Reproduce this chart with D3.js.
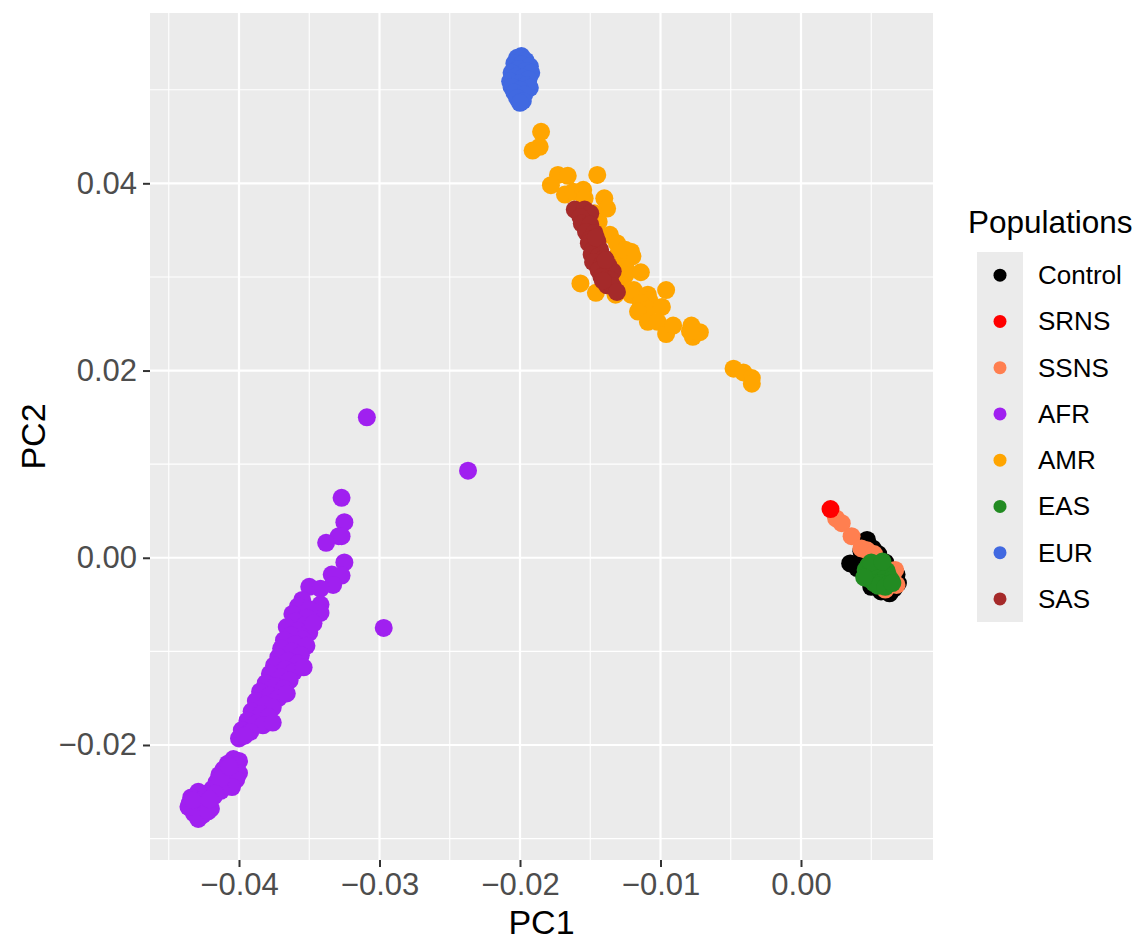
<!DOCTYPE html>
<html>
<head>
<meta charset="utf-8">
<script src="https://cdn.jsdelivr.net/npm/d3@7"></script>
<style>
  body { margin: 0; background: #fff; }
  svg { display: block; font-family: "Liberation Sans", Arial, sans-serif; }
</style>
</head>
<body>
<svg id="chart" width="1138" height="940" viewBox="0 0 1138 940"></svg>
<script>
// legend order + colours
const populations = ["Control", "SRNS", "SSNS", "AFR", "AMR", "EAS", "EUR", "SAS"];
const popColors = ["#000000", "#FF0000", "#FF7F50", "#A020F0", "#FFA500", "#228B22", "#4169E1", "#A52A2A"];

const xTicks = [-0.04, -0.03, -0.02, -0.01, 0.00];
const xMinor = [-0.045, -0.035, -0.025, -0.015, -0.005, 0.005];
const yTicks = [-0.02, 0.00, 0.02, 0.04];
const yMinor = [-0.03, -0.01, 0.01, 0.03, 0.05];

// PC1, PC2 per sample
const controlPts = [
  [0.0035, -0.0006], [0.0047, 0.0019], [0.0051, 0.0010], [0.0040, -0.0011], [0.0069, -0.0027],
  [0.0063, -0.0038], [0.0057, -0.0036], [0.0045, -0.0004], [0.0055, 0.0004], [0.0066, -0.0033],
  [0.0050, -0.0031], [0.0043, 0.0007], [0.0060, -0.0005], [0.0068, -0.0018]
];
const srnsPts = [
  [0.0021, 0.0052]
];
const ssnsPts = [
  [0.0025, 0.0042], [0.0029, 0.0037], [0.0036, 0.0023], [0.0043, 0.0010], [0.0047, 0.0008],
  [0.0067, -0.0013], [0.0068, -0.0029], [0.0065, -0.0021], [0.0052, 0.0004], [0.0060, -0.0034]
];
const afrPts = [
  [-0.0309, 0.0150], [-0.0237, 0.0093], [-0.0297, -0.0075],
  [-0.0327, 0.0064], [-0.0325, 0.0038], [-0.0329, 0.0023], [-0.0327, 0.0023], [-0.0338, 0.0016],
  [-0.0325, -0.0005], [-0.0334, -0.0018], [-0.0327, -0.0019], [-0.0333, -0.0029],
  [-0.0350, -0.0031], [-0.0342, -0.0033], [-0.0342, -0.0050], [-0.0342, -0.0059],
  [-0.0355, -0.0045], [-0.0358, -0.0052], [-0.0350, -0.0055], [-0.0362, -0.0060], [-0.0352, -0.0064],
  [-0.0360, -0.0068], [-0.0353, -0.0072], [-0.0366, -0.0074], [-0.0358, -0.0078], [-0.0350, -0.0080],
  [-0.0363, -0.0083], [-0.0355, -0.0087], [-0.0368, -0.0088], [-0.0360, -0.0092], [-0.0352, -0.0094],
  [-0.0370, -0.0097], [-0.0362, -0.0100], [-0.0356, -0.0104], [-0.0372, -0.0106], [-0.0365, -0.0110],
  [-0.0358, -0.0113], [-0.0375, -0.0115], [-0.0367, -0.0119], [-0.0361, -0.0122], [-0.0378, -0.0124],
  [-0.0370, -0.0128], [-0.0364, -0.0131], [-0.0381, -0.0134], [-0.0374, -0.0137], [-0.0368, -0.0140],
  [-0.0385, -0.0143], [-0.0378, -0.0147], [-0.0372, -0.0150], [-0.0388, -0.0153], [-0.0381, -0.0157],
  [-0.0376, -0.0160], [-0.0391, -0.0164], [-0.0384, -0.0167], [-0.0379, -0.0170], [-0.0394, -0.0174],
  [-0.0388, -0.0177], [-0.0383, -0.0179], [-0.0398, -0.0184], [-0.0392, -0.0186], [-0.0400, -0.0193],
  [-0.0396, -0.0190], [-0.0347, -0.0070], [-0.0354, -0.0117], [-0.0366, -0.0145], [-0.0376, -0.0176],
  [-0.0404, -0.0215], [-0.0400, -0.0217], [-0.0408, -0.0220], [-0.0402, -0.0222], [-0.0411, -0.0226],
  [-0.0405, -0.0228], [-0.0400, -0.0230], [-0.0414, -0.0232], [-0.0408, -0.0235], [-0.0402, -0.0237],
  [-0.0416, -0.0240], [-0.0410, -0.0242], [-0.0405, -0.0245], [-0.0419, -0.0247], [-0.0413, -0.0249],
  [-0.0424, -0.0252], [-0.0429, -0.0250], [-0.0434, -0.0256], [-0.0418, -0.0255], [-0.0427, -0.0259],
  [-0.0435, -0.0262], [-0.0430, -0.0264], [-0.0423, -0.0265], [-0.0434, -0.0268], [-0.0428, -0.0270],
  [-0.0420, -0.0268], [-0.0432, -0.0273], [-0.0426, -0.0275], [-0.0429, -0.0279],
  [-0.0436, -0.0266], [-0.0433, -0.0259], [-0.0422, -0.0271], [-0.0413, -0.0236], [-0.0407, -0.0223],
  [-0.0417, -0.0252], [-0.0421, -0.0258]
];
const amrPts = [
  [-0.0185, 0.0455], [-0.0191, 0.0435], [-0.0186, 0.0439], [-0.0173, 0.0409], [-0.0166, 0.0408],
  [-0.0145, 0.0409], [-0.0178, 0.0398], [-0.0168, 0.0388], [-0.0162, 0.0391], [-0.0155, 0.0393],
  [-0.0154, 0.0384], [-0.0140, 0.0384], [-0.0138, 0.0373], [-0.0147, 0.0368], [-0.0144, 0.0359],
  [-0.0136, 0.0345], [-0.0131, 0.0336], [-0.0125, 0.0329], [-0.0121, 0.0327], [-0.0120, 0.0322],
  [-0.0130, 0.0325], [-0.0125, 0.0311], [-0.0125, 0.0302], [-0.0114, 0.0305], [-0.0157, 0.0293],
  [-0.0146, 0.0283], [-0.0132, 0.0281], [-0.0121, 0.0281], [-0.0119, 0.0286], [-0.0096, 0.0286],
  [-0.0109, 0.0281], [-0.0108, 0.0275], [-0.0114, 0.0272], [-0.0109, 0.0265], [-0.0116, 0.0263],
  [-0.0099, 0.0268], [-0.0109, 0.0252], [-0.0102, 0.0252], [-0.0096, 0.0239], [-0.0091, 0.0248],
  [-0.0078, 0.0248], [-0.0077, 0.0236], [-0.0072, 0.0241], [-0.0079, 0.0242], [-0.0048, 0.0202],
  [-0.0041, 0.0198], [-0.0035, 0.0192], [-0.0035, 0.0186], [-0.0134, 0.0315], [-0.0129, 0.0293]
];
const easPts = [
  [0.0048, -0.0008], [0.0053, -0.0007], [0.0058, -0.0009], [0.0046, -0.0013], [0.0051, -0.0012],
  [0.0056, -0.0013], [0.0061, -0.0014], [0.0047, -0.0018], [0.0052, -0.0017], [0.0057, -0.0018],
  [0.0062, -0.0019], [0.0049, -0.0023], [0.0054, -0.0022], [0.0059, -0.0023], [0.0064, -0.0024],
  [0.0052, -0.0027], [0.0057, -0.0027], [0.0062, -0.0028], [0.0050, -0.0005], [0.0055, -0.0030],
  [0.0060, -0.0031], [0.0065, -0.0027], [0.0045, -0.0021], [0.0058, -0.0004]
];
const eurPts = [
  [-0.0199, 0.0536], [-0.0202, 0.0534], [-0.0196, 0.0531], [-0.0204, 0.0528], [-0.0199, 0.0527],
  [-0.0193, 0.0525], [-0.0201, 0.0522], [-0.0196, 0.0520], [-0.0206, 0.0518], [-0.0192, 0.0518],
  [-0.0203, 0.0514], [-0.0198, 0.0513], [-0.0194, 0.0511], [-0.0207, 0.0509], [-0.0201, 0.0507],
  [-0.0196, 0.0505], [-0.0206, 0.0503], [-0.0193, 0.0502], [-0.0200, 0.0500], [-0.0204, 0.0497],
  [-0.0197, 0.0495], [-0.0202, 0.0491], [-0.0198, 0.0488], [-0.0200, 0.0486]
];
const sasPts = [
  [-0.0161, 0.0372], [-0.0154, 0.0372], [-0.0150, 0.0368], [-0.0157, 0.0364], [-0.0156, 0.0357],
  [-0.0150, 0.0356], [-0.0153, 0.0348], [-0.0147, 0.0347], [-0.0150, 0.0340], [-0.0145, 0.0338],
  [-0.0151, 0.0336], [-0.0148, 0.0329], [-0.0143, 0.0329], [-0.0149, 0.0324], [-0.0144, 0.0322],
  [-0.0140, 0.0320], [-0.0148, 0.0316], [-0.0142, 0.0313], [-0.0137, 0.0312], [-0.0144, 0.0307],
  [-0.0138, 0.0304], [-0.0134, 0.0306], [-0.0142, 0.0300], [-0.0136, 0.0297], [-0.0138, 0.0291],
  [-0.0134, 0.0290], [-0.0131, 0.0284], [-0.0146, 0.0342], [-0.0139, 0.0318], [-0.0141, 0.0296]
];

// drawing order (later on top)
const layers = [
  ["Control", controlPts], ["SSNS", ssnsPts], ["SRNS", srnsPts], ["AFR", afrPts],
  ["AMR", amrPts], ["SAS", sasPts], ["EAS", easPts], ["EUR", eurPts]
];

const svg = d3.select("#chart");
const panel = { left: 150, right: 933, top: 13, bottom: 860 };

const x = d3.scaleLinear().domain([-0.046335, 0.009395]).range([panel.left, panel.right]);
const y = d3.scaleLinear().domain([-0.032285, 0.058193]).range([panel.bottom, panel.top]);
const color = d3.scaleOrdinal().domain(populations).range(popColors);

// panel background
svg.append("rect")
    .attr("x", panel.left).attr("y", panel.top)
    .attr("width", panel.right - panel.left).attr("height", panel.bottom - panel.top)
    .attr("fill", "#EBEBEB");

// grid lines
const grid = svg.append("g");
grid.selectAll(".vminor").data(xMinor).enter().append("line")
    .attr("x1", d => x(d)).attr("x2", d => x(d))
    .attr("y1", panel.top).attr("y2", panel.bottom)
    .attr("stroke", "#fff").attr("stroke-width", 1.1);
grid.selectAll(".hminor").data(yMinor).enter().append("line")
    .attr("y1", d => y(d)).attr("y2", d => y(d))
    .attr("x1", panel.left).attr("x2", panel.right)
    .attr("stroke", "#fff").attr("stroke-width", 1.1);
grid.selectAll(".vmajor").data(xTicks).enter().append("line")
    .attr("x1", d => x(d)).attr("x2", d => x(d))
    .attr("y1", panel.top).attr("y2", panel.bottom)
    .attr("stroke", "#fff").attr("stroke-width", 2.2);
grid.selectAll(".hmajor").data(yTicks).enter().append("line")
    .attr("y1", d => y(d)).attr("y2", d => y(d))
    .attr("x1", panel.left).attr("x2", panel.right)
    .attr("stroke", "#fff").attr("stroke-width", 2.2);

// points
const pts = svg.append("g");
layers.forEach(([pop, arr]) => {
    pts.selectAll(null).data(arr).enter().append("circle")
        .attr("cx", d => x(d[0]))
        .attr("cy", d => y(d[1]))
        .attr("r", 9)
        .attr("fill", color(pop));
});

// axes
const fmt = d3.format(".2f");
const xAxis = svg.append("g")
    .attr("transform", `translate(0,${panel.bottom})`)
    .call(d3.axisBottom(x).tickValues(xTicks).tickFormat(fmt).tickSize(7).tickPadding(6));
const yAxis = svg.append("g")
    .attr("transform", `translate(${panel.left},0)`)
    .call(d3.axisLeft(y).tickValues(yTicks).tickFormat(fmt).tickSize(7).tickPadding(6));

[xAxis, yAxis].forEach(a => {
    a.select(".domain").remove();
    a.selectAll(".tick line").attr("stroke", "#333333").attr("stroke-width", 2);
    a.selectAll(".tick text")
        .attr("fill", "#4D4D4D")
        .style("font-size", "31px")
        .style("font-family", "'Liberation Sans', Arial, sans-serif");
});

// axis titles
svg.append("text")
    .attr("x", (panel.left + panel.right) / 2)
    .attr("y", 934)
    .attr("text-anchor", "middle")
    .style("font-size", "34px")
    .text("PC1");
svg.append("text")
    .attr("transform", `translate(45,${(panel.top + panel.bottom) / 2}) rotate(-90)`)
    .attr("text-anchor", "middle")
    .style("font-size", "34px")
    .text("PC2");

// legend
const legend = svg.append("g");
legend.append("text")
    .attr("x", 968).attr("y", 233)
    .style("font-size", "31.5px")
    .text("Populations");
const keyH = 46.25;
legend.append("rect")
    .attr("x", 977).attr("y", 252)
    .attr("width", 46).attr("height", keyH * populations.length)
    .attr("fill", "#EBEBEB");
const items = legend.selectAll(".item").data(populations).enter().append("g")
    .attr("transform", (d, i) => `translate(0,${252 + keyH * i + keyH / 2})`);
items.append("circle")
    .attr("cx", 1000).attr("cy", 0).attr("r", 6.5)
    .attr("fill", d => color(d));
items.append("text")
    .attr("x", 1038).attr("y", 0).attr("dy", "0.35em")
    .style("font-size", "26px")
    .text(d => d);
</script>
</body>
</html>
